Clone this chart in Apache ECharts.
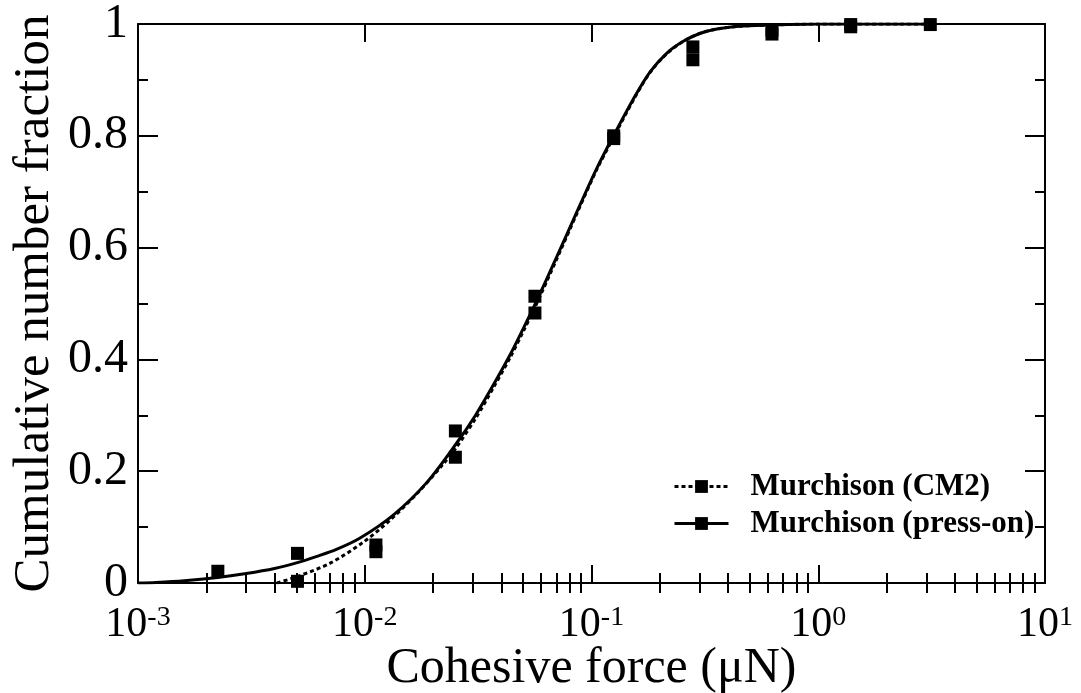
<!DOCTYPE html>
<html>
<head>
<meta charset="utf-8">
<script src="https://cdn.jsdelivr.net/npm/echarts@6/dist/echarts.min.js"></script>
<style>
html,body{margin:0;padding:0;background:#fff;}
#chart{width:1081px;height:693px;}
</style>
</head>
<body>
<div id="chart"></div>
<script>
// ---- data ----
const seriesNames = ['Murchison (CM2)', 'Murchison (press-on)'];

// measured points [force (µN), cumulative fraction]
const cm2Points = [
  [0.00505, 0.003], [0.0112, 0.056], [0.0251, 0.225], [0.0563, 0.483],
  [0.1253, 0.795], [0.280, 0.959], [0.625, 0.989], [1.39, 0.999]
];
const pressOnPoints = [
  [0.00225, 0.021], [0.00505, 0.053], [0.0112, 0.068], [0.0251, 0.272],
  [0.0563, 0.513], [0.1253, 0.800], [0.280, 0.936], [0.625, 0.982],
  [1.39, 0.995], [3.12, 0.999]
];

// fitted curves
const cm2CurveX = [0.0041, 0.005, 0.007, 0.00985, 0.0129, 0.017, 0.0222, 0.0254, 0.031, 0.037, 0.044, 0.05, 0.0566, 0.07, 0.086, 0.105, 0.125, 0.153, 0.181, 0.215, 0.254, 0.30, 0.357, 0.45, 0.59, 1.0, 3.14];
const cm2CurveY = [0.0, 0.011, 0.035, 0.073, 0.112, 0.160, 0.213, 0.243, 0.296, 0.350, 0.405, 0.450, 0.495, 0.578, 0.660, 0.738, 0.797, 0.864, 0.913, 0.947, 0.969, 0.983, 0.991, 0.996, 0.998, 1.0, 1.0];

const pressCurveX = [0.001, 0.0012, 0.0016, 0.00225, 0.003, 0.004, 0.005, 0.0062, 0.0075, 0.0095, 0.0134, 0.0188, 0.0254, 0.031, 0.037, 0.044, 0.05, 0.0566, 0.07, 0.086, 0.105, 0.125, 0.153, 0.181, 0.215, 0.254, 0.30, 0.357, 0.45, 0.59, 1.0, 3.14];
const pressCurveY = [0.0, 0.001, 0.004, 0.010, 0.017, 0.026, 0.036, 0.048, 0.060, 0.080, 0.122, 0.180, 0.250, 0.302, 0.355, 0.410, 0.455, 0.500, 0.582, 0.663, 0.740, 0.800, 0.866, 0.914, 0.948, 0.969, 0.983, 0.991, 0.996, 0.998, 1.0, 1.0];

// axis tick values
const xMajorTicks = [0.001, 0.01, 0.1, 1, 10];
const xMinorTicks = [
  0.002, 0.003, 0.004, 0.005, 0.006, 0.007, 0.008, 0.009,
  0.02, 0.03, 0.04, 0.05, 0.06, 0.07, 0.08, 0.09,
  0.2, 0.3, 0.4, 0.5, 0.6, 0.7, 0.8, 0.9,
  2, 3, 4, 5, 6, 7, 8, 9
];
const yTickLabels = ['0', '0.2', '0.4', '0.6', '0.8', '1'];

// ---- chart ----
const zip = (xs, ys) => xs.map((x, i) => [x, ys[i]]);
const FONT = '"Liberation Serif", "Times New Roman", serif';
const BLACK = '#000';

function logAxis(position, opts) {
  return Object.assign({
    type: 'log', logBase: 10, min: 0.001, max: 10, position: position,
    axisLine: { show: true, onZero: false, lineStyle: { color: BLACK, width: 2 } },
    axisTick: { show: true, inside: true, length: 18, lineStyle: { color: BLACK, width: 2 } },
    axisLabel: { show: false },
    splitLine: { show: false },
    minorTick: { show: false },
    minorSplitLine: { show: false }
  }, opts);
}

const chart = echarts.init(document.getElementById('chart'), null, { renderer: 'canvas' });

const option = {
  backgroundColor: '#fff',
  animation: false,
  grid: { left: 138, right: 36, top: 24, bottom: 110, containLabel: false, outerBoundsMode: 'none' },
  legend: {
    orient: 'vertical',
    left: 668,
    top: 466,
    itemWidth: 54,
    itemHeight: 16,
    itemGap: 6,
    data: seriesNames,
    lineStyle: { width: 3 },
    textStyle: { fontFamily: FONT, fontSize: 31, fontWeight: 'bold', color: BLACK, padding: [0, 0, 0, 17] }
  },
  xAxis: [
    logAxis('bottom', {
      name: 'Cohesive force (\u03bcN)',
      nameLocation: 'middle',
      nameGap: 61,
      nameMoveOverlap: false,
      nameTextStyle: { fontFamily: FONT, fontSize: 50, color: BLACK },
      axisTick: { show: true, inside: true, length: 18, customValues: xMajorTicks, lineStyle: { color: BLACK, width: 2 } },
      axisLabel: {
        show: true,
        margin: 21,
        customValues: xMajorTicks,
        formatter: function (v) {
          const e = Math.round(Math.log10(v));
          return '{b|10}{s|' + e + '}';
        },
        rich: {
          b: { fontFamily: FONT, fontSize: 42, color: BLACK, lineHeight: 42 },
          s: { fontFamily: FONT, fontSize: 28, color: BLACK, verticalAlign: 'top', lineHeight: 42 }
        }
      }
    }),
    logAxis('bottom', {
      axisLine: { show: false },
      axisTick: { show: true, inside: true, length: 10, customValues: xMinorTicks, lineStyle: { color: BLACK, width: 2 } }
    }),
    logAxis('top', {
      axisTick: { show: true, inside: true, length: 18, customValues: xMajorTicks, lineStyle: { color: BLACK, width: 2 } }
    }),
    logAxis('top', {
      axisLine: { show: false },
      axisTick: { show: true, inside: true, length: 10, customValues: xMinorTicks, lineStyle: { color: BLACK, width: 2 } }
    })
  ],
  yAxis: [
    {
      type: 'value', min: 0, max: 1, interval: 0.2, position: 'left',
      name: 'Cumulative number fraction',
      nameLocation: 'middle',
      nameGap: 78,
      nameMoveOverlap: false,
      nameTextStyle: { fontFamily: FONT, fontSize: 51, color: BLACK },
      axisLine: { show: true, onZero: false, lineStyle: { color: BLACK, width: 2 } },
      axisTick: { show: true, inside: true, length: 20, lineStyle: { color: BLACK, width: 2 } },
      minorTick: { show: true, splitNumber: 2, length: 10, lineStyle: { color: BLACK, width: 2 } },
      axisLabel: {
        margin: 10, fontFamily: FONT, fontSize: 48, color: BLACK,
        formatter: function (v) { return yTickLabels[Math.round(v / 0.2)]; }
      },
      splitLine: { show: false }
    },
    {
      type: 'value', min: 0, max: 1, interval: 0.2, position: 'right',
      axisLine: { show: true, onZero: false, lineStyle: { color: BLACK, width: 2 } },
      axisTick: { show: true, inside: true, length: 20, lineStyle: { color: BLACK, width: 2 } },
      minorTick: { show: true, splitNumber: 2, length: 10, lineStyle: { color: BLACK, width: 2 } },
      axisLabel: { show: false },
      splitLine: { show: false }
    }
  ],
  series: [
    {
      name: seriesNames[0], type: 'line', xAxisIndex: 0, yAxisIndex: 0,
      data: zip(cm2CurveX, cm2CurveY), smooth: 0.3,
      symbol: 'rect', symbolSize: 13, showSymbol: false,
      lineStyle: { color: BLACK, width: 3, type: [4, 3] },
      itemStyle: { color: BLACK, opacity: 1 }, z: 3
    },
    {
      name: seriesNames[1], type: 'line', xAxisIndex: 0, yAxisIndex: 0,
      data: zip(pressCurveX, pressCurveY), smooth: 0.3,
      symbol: 'rect', symbolSize: 13, showSymbol: false,
      lineStyle: { color: BLACK, width: 3, type: 'solid' },
      itemStyle: { color: BLACK, opacity: 1 }, z: 3
    },
    {
      name: seriesNames[0], type: 'scatter', xAxisIndex: 0, yAxisIndex: 0,
      data: cm2Points, symbol: 'rect', symbolSize: 13,
      itemStyle: { color: BLACK, opacity: 1 }, clip: false, z: 4
    },
    {
      name: seriesNames[1], type: 'scatter', xAxisIndex: 0, yAxisIndex: 0,
      data: pressOnPoints, symbol: 'rect', symbolSize: 13,
      itemStyle: { color: BLACK, opacity: 1 }, clip: false, z: 4
    }
  ]
};
chart.setOption(option);
</script>
</body>
</html>
